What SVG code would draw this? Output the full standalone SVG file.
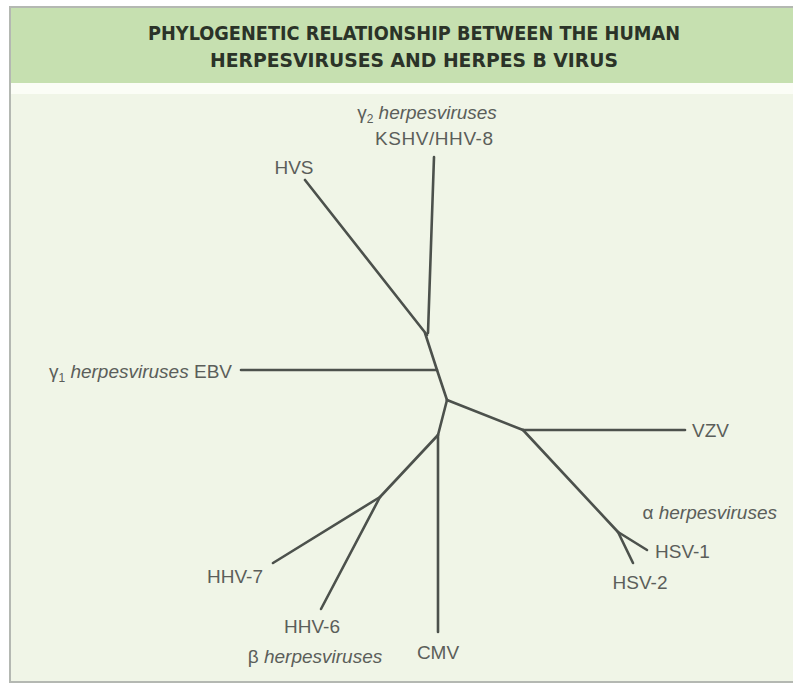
<svg xmlns="http://www.w3.org/2000/svg" width="793" height="683" viewBox="0 0 793 683">
  <style>
    .title { font-family: "DejaVu Sans Condensed", "Liberation Sans Narrow", "Liberation Sans", sans-serif; font-weight: bold; font-size: 19.5px; fill: #2b3328; text-anchor: middle; }
    .lbl { font-family: "Liberation Sans", "DejaVu Sans", sans-serif; font-size: 19px; fill: #5b5e5a; }
    .it { font-style: italic; }
    .branch { stroke: #4c514c; stroke-width: 2.6; fill: none; stroke-linecap: round; stroke-linejoin: round; }
  </style>

  <!-- page background -->
  <rect x="0" y="0" width="793" height="683" fill="#ffffff"/>

  <!-- panel frame -->
  <g id="panel">
    <rect x="10" y="7" width="790" height="675" fill="#f0f5e7" stroke="#b4b8b2" stroke-width="2"/>
    <rect x="11" y="8" width="782" height="75" fill="#c6e0b0"/>
    <rect x="11" y="83" width="782" height="11" fill="#fbfdf6"/>
  </g>

  <!-- heading -->
  <g id="heading">
    <text class="title" x="414" y="40" textLength="532" lengthAdjust="spacingAndGlyphs">PHYLOGENETIC RELATIONSHIP BETWEEN THE HUMAN</text>
    <text class="title" x="414" y="67" textLength="408" lengthAdjust="spacingAndGlyphs">HERPESVIRUSES AND HERPES B VIRUS</text>
  </g>

  <!-- tree branches -->
  <g id="connectors">
    <!-- backbone -->
    <polyline class="branch" points="425,333 437,370 447,400"/>
    <!-- gamma-2 -->
    <line class="branch" x1="434" y1="157" x2="428" y2="333"/>
    <line class="branch" x1="305" y1="180" x2="427" y2="335"/>
    <!-- gamma-1 -->
    <line class="branch" x1="241" y1="370" x2="437" y2="370"/>
    <!-- alpha -->
    <line class="branch" x1="447" y1="400" x2="523" y2="430"/>
    <line class="branch" x1="523" y1="430" x2="685" y2="430"/>
    <line class="branch" x1="523" y1="430" x2="618" y2="532"/>
    <line class="branch" x1="618" y1="532" x2="647" y2="550"/>
    <line class="branch" x1="618" y1="532" x2="633" y2="563"/>
    <!-- beta -->
    <line class="branch" x1="447" y1="400" x2="438" y2="435"/>
    <line class="branch" x1="438" y1="435" x2="438" y2="632"/>
    <line class="branch" x1="438" y1="435" x2="380" y2="497"/>
    <line class="branch" x1="380" y1="497" x2="273" y2="563"/>
    <line class="branch" x1="380" y1="497" x2="321" y2="609"/>
  </g>

  <!-- leaf labels -->
  <g id="kshv">
    <text class="lbl" x="427" y="119" text-anchor="middle">γ<tspan font-size="12" dy="4">2</tspan><tspan dy="-4" class="it"> herpesviruses</tspan></text>
    <text class="lbl" x="434" y="145" text-anchor="middle" textLength="118">KSHV/HHV-8</text>
  </g>
  <g id="hvs">
    <text class="lbl" x="294" y="174" text-anchor="middle">HVS</text>
  </g>
  <g id="ebv">
    <text class="lbl" x="232" y="378" text-anchor="end">γ<tspan font-size="12" dy="4">1</tspan><tspan dy="-4" class="it"> herpesviruses</tspan> EBV</text>
  </g>
  <g id="vzv">
    <text class="lbl" x="692" y="437">VZV</text>
  </g>
  <g id="hsv">
    <text class="lbl" x="777" y="519" text-anchor="end">α <tspan class="it">herpesviruses</tspan></text>
    <text class="lbl" x="655" y="558">HSV-1</text>
    <text class="lbl" x="640" y="589" text-anchor="middle">HSV-2</text>
  </g>
  <g id="hhv7">
    <text class="lbl" x="263" y="583" text-anchor="end">HHV-7</text>
  </g>
  <g id="hhv6">
    <text class="lbl" x="312" y="633" text-anchor="middle">HHV-6</text>
    <text class="lbl" x="315" y="663" text-anchor="middle">β <tspan class="it">herpesviruses</tspan></text>
  </g>
  <g id="cmv">
    <text class="lbl" x="438" y="659" text-anchor="middle">CMV</text>
  </g>
</svg>
